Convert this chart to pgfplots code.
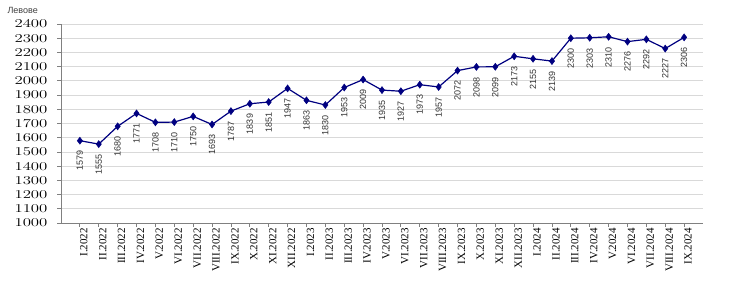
\documentclass[border=0pt]{standalone}
\usepackage{fontspec}
\setmainfont{Liberation Serif}
\newfontfamily\arial{Liberation Sans}
\usepackage{pgfplots}
\pgfplotsset{compat=1.18}
\definecolor{navy}{RGB}{0,0,128}
\definecolor{gridgray}{RGB}{217,217,217}
\definecolor{axgray}{RGB}{128,128,128}
\begin{document}
\begin{tikzpicture}
\begin{axis}[
  name=ax,
  scale only axis,
  width=642pt, height=199pt,
  xmin=-1, xmax=33,
  ymin=1000, ymax=2400,
  ytick={1000,1100,...,2400},
  xtick={0,...,32},
  xticklabels={I.2022,II.2022,III.2022,IV.2022,V.2022,VI.2022,VII.2022,VIII.2022,IX.2022,X.2022,XI.2022,XII.2022,I.2023,II.2023,III.2023,IV.2023,V.2023,VI.2023,VII.2023,VIII.2023,IX.2023,X.2023,XI.2023,XII.2023,I.2024,II.2024,III.2024,IV.2024,V.2024,VI.2024,VII.2024,VIII.2024,IX.2024},
  xticklabel style={rotate=90, anchor=east, font=\fontsize{11}{11}\selectfont, inner sep=1pt, yshift=-4pt},
  yticklabel style={font=\fontsize{11.5}{11.5}\selectfont, xshift=-6pt},
  yticklabel={\scalebox{1.4}[1]{\pgfmathprintnumber[fixed,precision=0,1000 sep={}]{\tick}}},
  ymajorgrids,
  grid style={gridgray, line width=0.8pt},
  axis x line*=bottom,
  axis y line*=left,
  axis line style={axgray, line width=0.8pt},
  tick style={axgray, line width=0.8pt},
  major tick length=4pt,
  tick align=outside,
  every node near coord/.append style={font=\arial\fontsize{9}{9}\selectfont, color=black!80, yshift=-9pt, rotate=90, anchor=east, inner sep=1pt},
  clip=false,
]
\addplot[navy, line width=1.2pt, mark=diamond*, mark size=3.5pt, mark options={fill=navy, line width=0.5pt},
  nodes near coords, point meta=explicit symbolic]
  table[x=x, y=y, meta=y] {
x y
0 1579
1 1555
2 1680
3 1771
4 1708
5 1710
6 1750
7 1693
8 1787
9 1839
10 1851
11 1947
12 1863
13 1830
14 1953
15 2009
16 1935
17 1927
18 1973
19 1957
20 2072
21 2098
22 2099
23 2173
24 2155
25 2139
26 2300
27 2303
28 2310
29 2276
30 2292
31 2227
32 2306
};
\end{axis}
\node[font=\arial\fontsize{9}{9}\selectfont, text=black!75, anchor=west] at ([shift={(-57pt,14pt)}]ax.north west) {Левове};
\pgfresetboundingbox
\path ([shift={(-61pt,-62pt)}]ax.south west) rectangle ([shift={(37pt,24pt)}]ax.north east);
\end{tikzpicture}
\end{document}
